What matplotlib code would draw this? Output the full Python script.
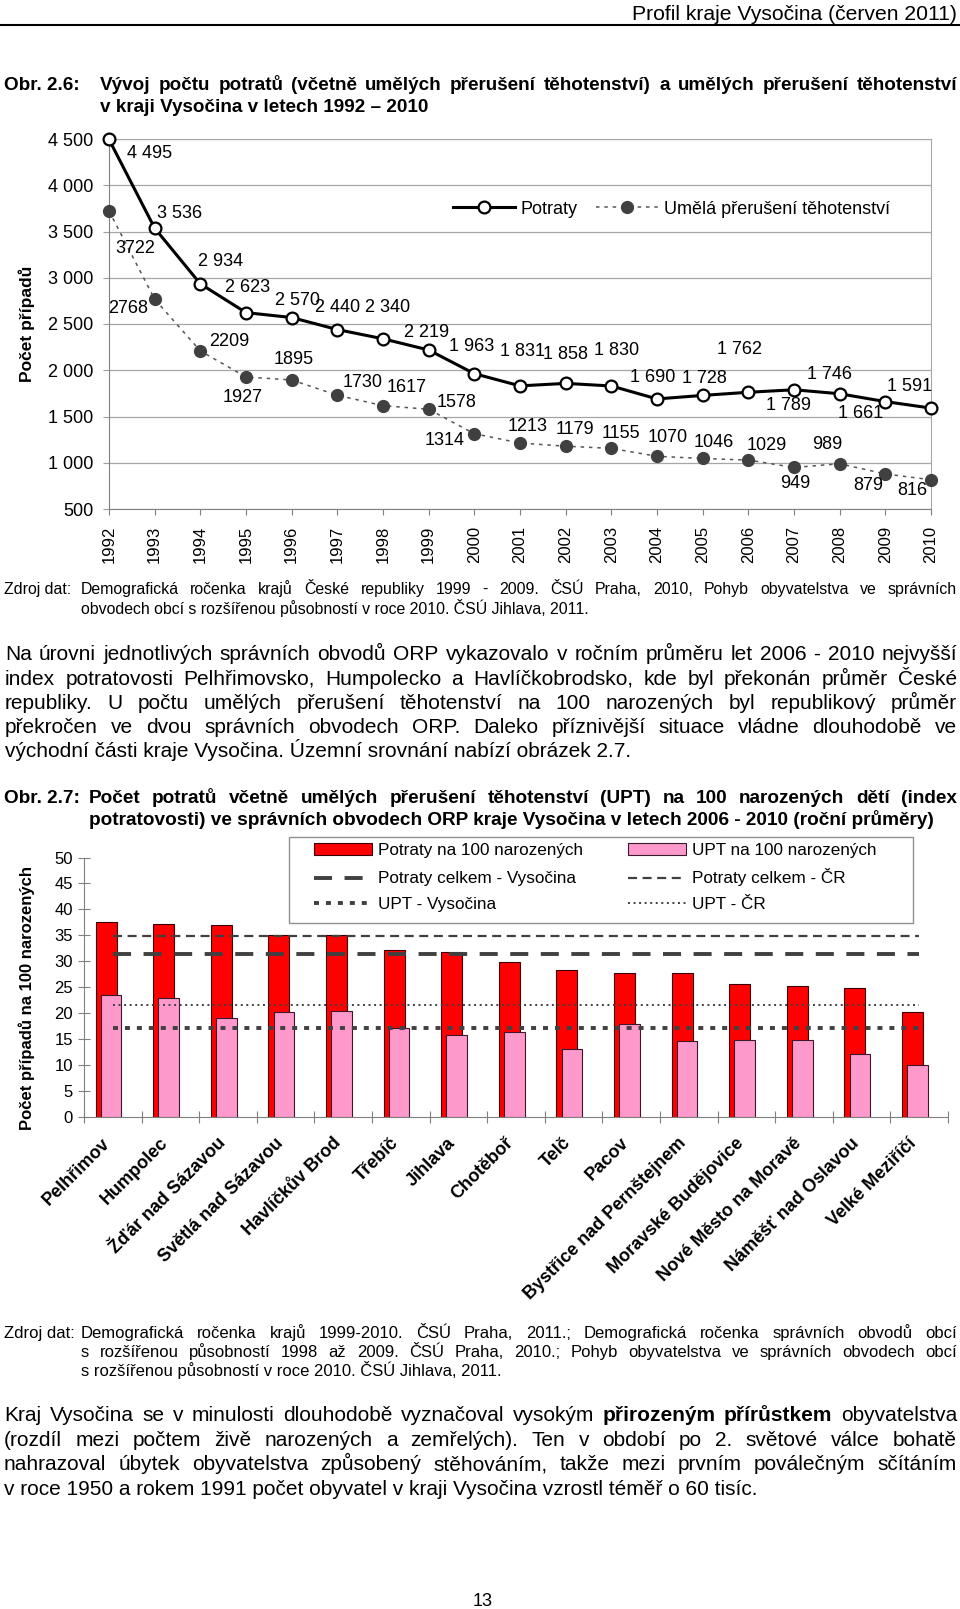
import matplotlib
matplotlib.use('Agg')
import matplotlib.pyplot as plt
from matplotlib.lines import Line2D
from matplotlib.patches import Patch, Rectangle
import numpy as np

W, H = 960, 1609
plt.rcParams['font.family'] = ['Liberation Sans', 'DejaVu Sans']
plt.rcParams['lines.scale_dashes'] = False

# ---------------- data: chart 2.6 ----------------
years = list(range(1992, 2011))
potraty = [4495, 3536, 2934, 2623, 2570, 2440, 2340, 2219, 1963, 1831,
           1858, 1830, 1690, 1728, 1762, 1789, 1746, 1661, 1591]
upt = [3722, 2768, 2209, 1927, 1895, 1730, 1617, 1578, 1314, 1213,
       1179, 1155, 1070, 1046, 1029, 949, 989, 879, 816]
y1_ticks = [500, 1000, 1500, 2000, 2500, 3000, 3500, 4000, 4500]

# ---------------- data: chart 2.7 ----------------
orp = ['Pelhřimov', 'Humpolec', 'Žďár nad Sázavou', 'Světlá nad Sázavou',
       'Havlíčkův Brod', 'Třebíč', 'Jihlava', 'Chotěboř', 'Telč', 'Pacov',
       'Bystřice nad Pernštejnem', 'Moravské Budějovice', 'Nové Město na Moravě',
       'Náměšť nad Oslavou', 'Velké Meziříčí']
potraty_100 = [37.6, 37.2, 37.0, 35.1, 35.1, 32.1, 31.8, 29.8, 28.3, 27.7,
               27.7, 25.6, 25.3, 24.9, 20.3]
upt_100 = [23.5, 22.9, 19.0, 20.3, 20.5, 17.2, 15.8, 16.3, 13.1, 17.9,
           14.7, 14.9, 14.9, 12.2, 10.1]
potraty_cr = 34.9
potraty_vys = 31.5
upt_cr = 21.5
upt_vys = 17.2
y2_ticks = [0, 5, 10, 15, 20, 25, 30, 35, 40, 45, 50]

# label offsets (pixels, right / down) for chart 2.6
pot_off = [(41, 14), (25, -15), (20, -22), (2, -25), (6, -17), (0, -22), (5, -31),
           (-2, -17), (-3, -27), (2, -34), (0, -29), (5, -35), (-4, -21), (2, -17),
           (-9, -43), (-6, 16), (-10, -19), (-25, 12), (-21, -22)]
upt_off = [(26, 38), (-27, 9), (29, -9), (-3, 20), (2, -20), (25, -13), (24, -18),
           (28, -7), (-30, 7), (8, -17), (9, -17), (10, -15), (11, -19), (11, -16),
           (18, -15), (1, 16), (-12, -19), (-17, 12), (-19, 11)]

fig = plt.figure(figsize=(W / 100, H / 100), dpi=100)
renderer = fig.canvas.get_renderer()


def text_width(s, size, weight='normal'):
    t = fig.text(0, 0, s, fontsize=size, fontweight=weight)
    w = t.get_window_extent(renderer).width
    t.remove()
    return w


def fit_size(s, target, weight='normal', s0=12.0):
    return s0 * target / text_width(s, s0, weight)


def put(x, y, s, size, weight='normal', ha='left'):
    em = size * 100 / 72
    fig.text(x / W, 1 - (y + 0.36 * em) / H, s, fontsize=size,
             fontweight=weight, ha=ha, va='baseline', color='black')


def justify(segments, x0, x1, y, size):
    words = []
    for seg, wt in segments:
        for w in seg.split():
            words.append((w, wt))
    widths = [text_width(w, size, wt) for w, wt in words]
    gap = (x1 - x0 - sum(widths)) / max(len(words) - 1, 1)
    x = x0
    for (w, wt), wd in zip(words, widths):
        put(x, y, w, size, wt)
        x += wd + gap


# ---------------- header ----------------
hdr = 'Profil kraje Vysočina (červen 2011)'
put(957, 12, hdr, fit_size(hdr, 326), ha='right')
fig.add_artist(Line2D([0, 1], [1 - 25 / H, 1 - 25 / H], color='black', lw=1.5,
                      transform=fig.transFigure))

# ---------------- title 2.6 ----------------
t26b = 'v kraji Vysočina v letech 1992 – 2010'
s_t = fit_size(t26b, 327, 'bold')
put(4, 83, 'Obr. 2.6:', s_t, 'bold')
justify([('Vývoj počtu potratů (včetně umělých přerušení těhotenství) a umělých přerušení těhotenství', 'bold')],
        100, 957, 83, s_t)
put(100, 105, t26b, s_t, 'bold')

# ---------------- chart 2.6 ----------------
ax1 = fig.add_axes([109 / W, 1 - 509 / H, (931 - 109) / W, (509 - 139) / H])
ax1.plot(years, upt, color='#555555', lw=1.1, dashes=(2.5, 3.5), marker='o',
         ms=8.5, mfc='#404040', mec='#404040', clip_on=False, zorder=3)
ax1.plot(years, potraty, color='black', lw=2.2, marker='o', ms=8.5,
         mfc='white', mec='black', mew=1.6, clip_on=False, zorder=4)
for yr, v, (dx, dy) in zip(years, potraty, pot_off):
    ax1.annotate(f'{v:,}'.replace(',', ' '), (yr, v), xytext=(dx, -dy),
                 textcoords='offset pixels', ha='center', va='center', fontsize=13)
for yr, v, (dx, dy) in zip(years, upt, upt_off):
    ax1.annotate(str(v), (yr, v), xytext=(dx, -dy),
                 textcoords='offset pixels', ha='center', va='center', fontsize=13)
ax1.set_xlim(1992, 2010)
ax1.set_ylim(500, 4500)
ax1.set_yticks(y1_ticks)
ax1.set_yticklabels([f'{v:,}'.replace(',', ' ') for v in y1_ticks], fontsize=13)
ax1.set_xticks(years)
ax1.set_xticklabels([str(y) for y in years], rotation=90, fontsize=12)
ax1.yaxis.grid(True, color='#a6a6a6', lw=0.9)
ax1.set_axisbelow(True)
for sp in ['left', 'bottom']:
    ax1.spines[sp].set_color('#808080')
ax1.spines['right'].set_color('#a6a6a6')
ax1.spines['top'].set_color('#a6a6a6')
ax1.tick_params(axis='y', length=4, color='#a0a0a0', pad=7)
ax1.tick_params(axis='x', length=4, color='#808080', pad=8)
fig.text(27 / W, 1 - 324 / H, 'Počet případů', rotation=90, fontsize=12.5,
         fontweight='bold', ha='center', va='center')
fig.legend(handles=[Line2D([], [], color='black', lw=2.2, marker='o', mfc='white',
                           mec='black', ms=8.5, mew=1.6),
                    Line2D([], [], color='#555555', lw=1.1, dashes=(2.5, 3.5),
                           marker='o', mfc='#404040', mec='#404040', ms=8.5)],
           labels=['Potraty', 'Umělá přerušení těhotenství'], ncol=2,
           loc='center left', bbox_to_anchor=(453 / W, 1 - 209 / H), frameon=False,
           borderpad=0, borderaxespad=0, handlelength=3.43, handletextpad=0.33,
           columnspacing=1.0, fontsize=13, numpoints=1)

# ---------------- source 1 ----------------
z1b = 'obvodech obcí s rozšířenou působností v roce 2010. ČSÚ Jihlava, 2011.'
s_z = fit_size(z1b, 508)
put(4, 588, 'Zdroj dat:', s_z)
justify([('Demografická ročenka krajů České republiky 1999 - 2009. ČSÚ Praha, 2010, Pohyb obyvatelstva ve správních', 'normal')],
        81, 957, 588, s_z)
put(81, 608, z1b, s_z)

# ---------------- paragraph 1 ----------------
p1 = ['Na úrovni jednotlivých správních obvodů ORP vykazovalo v ročním průměru let 2006 - 2010 nejvyšší',
      'index potratovosti Pelhřimovsko, Humpolecko a Havlíčkobrodsko, kde byl překonán průměr České',
      'republiky. U počtu umělých přerušení těhotenství na 100 narozených byl republikový průměr',
      'překročen ve dvou správních obvodech ORP. Daleko příznivější situace vládne dlouhodobě ve',
      'východní části kraje Vysočina. Územní srovnání nabízí obrázek 2.7.']
p1_y = [652, 677, 701, 725, 749]
s_p = fit_size(p1[-1], 628)
for line, y in zip(p1[:-1], p1_y[:-1]):
    justify([(line, 'normal')], 5, 957, y, s_p)
put(5, p1_y[-1], p1[-1], s_p)

# ---------------- title 2.7 ----------------
t27b = 'potratovosti) ve správních obvodech ORP kraje Vysočina v letech 2006 - 2010 (roční průměry)'
s_t2 = fit_size(t27b, 841, 'bold')
put(4, 796, 'Obr. 2.7:', s_t2, 'bold')
justify([('Počet potratů včetně umělých přerušení těhotenství (UPT) na 100 narozených dětí (index', 'bold')],
        89, 957, 796, s_t2)
put(89, 818, t27b, s_t2, 'bold')

# ---------------- chart 2.7 ----------------
ax2 = fig.add_axes([84 / W, 1 - 1117 / H, (948 - 84) / W, (1117 - 857.5) / H])
xc = np.arange(len(orp))
ax2.bar(xc - 0.115, potraty_100, width=0.365, color='#ff0000', edgecolor='#3a0000',
        lw=0.8, zorder=2)
ax2.bar(xc - 0.031, upt_100, width=0.358, color='#ff99cc', edgecolor='#3a1a2a',
        lw=0.8, zorder=3)
lc = '#404040'
ax2.plot([0, 14], [potraty_cr, potraty_cr], color=lc, lw=1.6, dashes=(6.5, 4), zorder=4)
ax2.plot([0, 14], [potraty_vys, potraty_vys], color=lc, lw=2.8, dashes=(13, 9), zorder=4)
ax2.plot([0, 14], [upt_cr, upt_cr], color=lc, lw=1.4, dashes=(1.4, 2.6), zorder=4)
ax2.plot([0, 14], [upt_vys, upt_vys], color=lc, lw=2.8, dashes=(3.6, 5), zorder=4)
ax2.set_xlim(-0.5, len(orp) - 0.5)
ax2.set_ylim(0, 50)
ax2.set_yticks(y2_ticks)
ax2.set_yticklabels([str(v) for v in y2_ticks], fontsize=12)
ax2.set_xticks(np.arange(-0.5, len(orp), 1.0))
ax2.set_xticklabels([])
ax2.set_xticks(xc - 0.09, labels=orp, minor=True)
for lab in ax2.get_xticklabels(minor=True):
    lab.set_rotation(45)
    lab.set_ha('right')
    lab.set_va('center')
    lab.set_rotation_mode('anchor')
    lab.set_fontweight('bold')
    lab.set_fontsize(13)
ax2.tick_params(axis='x', which='minor', length=0, pad=17)
ax2.tick_params(axis='x', which='major', direction='inout', length=8, color='#808080')
ax2.tick_params(axis='y', direction='inout', length=8, color='#808080', pad=4)
for sp in ['top', 'right']:
    ax2.spines[sp].set_visible(False)
for sp in ['left', 'bottom']:
    ax2.spines[sp].set_color('#808080')
fig.text(27 / W, 1 - 998 / H, 'Počet případů na 100 narozených', rotation=90,
         fontsize=12, fontweight='bold', ha='center', va='center')

fig.add_artist(Rectangle((288.7 / W, 1 - 923 / H), (913 - 288.7) / W, (923 - 837) / H,
                         transform=fig.transFigure, facecolor='white',
                         edgecolor='#909090', lw=1.0, zorder=5))
leg_fs = 12.3
leg_px = leg_fs * 100 / 72
hA = [Patch(facecolor='#ff0000', edgecolor='#3a0000', lw=0.8),
      Line2D([], [], color=lc, lw=2.8, dashes=(13, 9)),
      Line2D([], [], color=lc, lw=2.8, dashes=(3.6, 5))]
lA = ['Potraty na 100 narozených', 'Potraty celkem - Vysočina', 'UPT - Vysočina']
hB = [Patch(facecolor='#ff99cc', edgecolor='#3a1a2a', lw=0.8),
      Line2D([], [], color=lc, lw=1.6, dashes=(6.5, 4)),
      Line2D([], [], color=lc, lw=1.4, dashes=(1.4, 2.6))]
lB = ['UPT na 100 narozených', 'Potraty celkem - ČR', 'UPT - ČR']
row_y = [850, 877.5, 904]
hl, tp = 3.4, 0.35
for ha_, hb_, la_, lb_, ry in zip(hA, hB, lA, lB, row_y):
    colsp = (627.7 - 314 - (hl + tp) * leg_px - text_width(la_, leg_fs)) / leg_px
    lg = fig.legend(handles=[ha_, hb_], labels=[la_, lb_], ncol=2, loc='center left',
                    bbox_to_anchor=(314 / W, 1 - ry / H), frameon=False,
                    borderpad=0, borderaxespad=0, handlelength=hl, handletextpad=tp,
                    columnspacing=colsp, fontsize=leg_fs)
    lg.set_zorder(6)

# ---------------- source 2 ----------------
z2 = ['Demografická ročenka krajů 1999-2010. ČSÚ Praha, 2011.; Demografická ročenka správních obvodů obcí',
      's rozšířenou působností 1998 až 2009. ČSÚ Praha, 2010.; Pohyb obyvatelstva ve správních obvodech obcí',
      's rozšířenou působností v roce 2010. ČSÚ Jihlava, 2011.']
z2_y = [1332, 1351, 1370]
s_z2 = fit_size(z2[-1], 420)
put(4, z2_y[0], 'Zdroj dat:', s_z2)
for line, y in zip(z2[:-1], z2_y[:-1]):
    justify([(line, 'normal')], 81, 957, y, s_z2)
put(81, z2_y[-1], z2[-1], s_z2)

# ---------------- paragraph 2 ----------------
p2 = [[('Kraj Vysočina se v minulosti dlouhodobě vyznačoval vysokým', 'normal'),
       ('přirozeným přírůstkem', 'bold'), ('obyvatelstva', 'normal')],
      [('(rozdíl mezi počtem živě narozených a zemřelých). Ten v období po 2. světové válce bohatě', 'normal')],
      [('nahrazoval úbytek obyvatelstva způsobený stěhováním, takže mezi prvním poválečným sčítáním', 'normal')]]
p2_last = 'v roce 1950 a rokem 1991 počet obyvatel v kraji Vysočina vzrostl téměř o 60 tisíc.'
p2_y = [1414, 1439, 1463, 1488]
s_p2 = fit_size(p2_last, 754)
for segs, y in zip(p2, p2_y[:-1]):
    justify(segs, 4, 957, y, s_p2)
put(4, p2_y[-1], p2_last, s_p2)

# ---------------- page number ----------------
put(483, 1599, '13', 13, ha='center')

fig.savefig('out.png', dpi=100)
